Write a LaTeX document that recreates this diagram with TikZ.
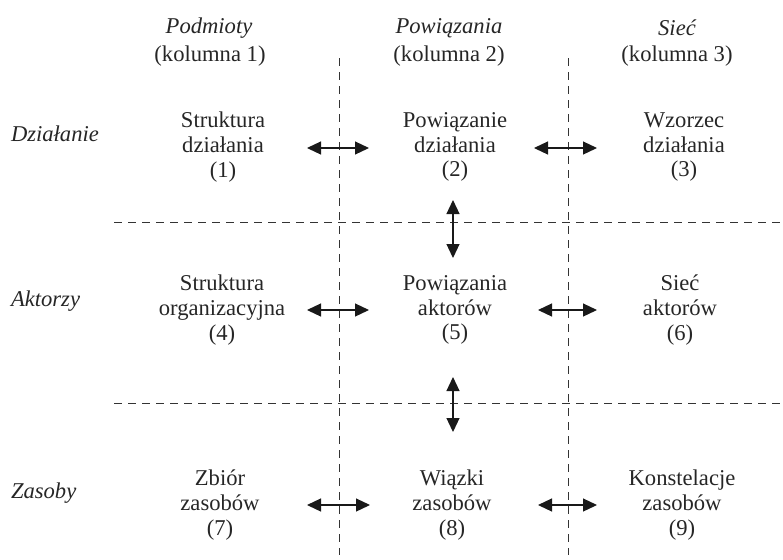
\documentclass[tikz,border=0pt]{standalone}
\usepackage{fontspec}
\setmainfont{Liberation Serif}
\usetikzlibrary{arrows.meta}
\begin{document}
\begin{tikzpicture}[x=0.5pt,y=-0.5pt,
  every node/.style={inner sep=0pt,outer sep=0pt,text=black!85},
  cell/.style={align=center,font=\fontsize{11.3}{12.3}\selectfont},
  rowlab/.style={anchor=west,font=\fontsize{11.3}{12.3}\selectfont\itshape},
  colhead/.style={font=\fontsize{11.3}{12.3}\selectfont\itshape},
  colsub/.style={font=\fontsize{11.3}{12.3}\selectfont},
  grid/.style={dashed,dash pattern=on 4pt off 3pt,line width=0.5pt,black!80},
  dbl/.style={{Triangle[length=7pt,width=6.5pt]}-{Triangle[length=7pt,width=6.5pt]},line width=0.6pt,black!90}]
\useasboundingbox (0,0) rectangle (783,559);
% grid lines
\coordinate (v1t) at (339,58);  \coordinate (v1b) at (339,555);
\coordinate (v2t) at (568,58);  \coordinate (v2b) at (568,555);
\coordinate (h1l) at (114,222); \coordinate (h1r) at (783,222);
\coordinate (h2l) at (114,403); \coordinate (h2r) at (783,403);
\draw[grid] (v1t) -- (v1b);
\draw[grid] (v2t) -- (v2b);
\draw[grid] (h1l) -- (h1r);
\draw[grid] (h2l) -- (h2r);
% column headers
\node[colhead] (h1) at (209,28) {Podmioty};
\node[colsub]  (k1) at (210,56) {(kolumna 1)};
\node[colhead] (h2) at (449,28) {Powiązania};
\node[colsub]  (k2) at (449,56) {(kolumna 2)};
\node[colhead] (h3) at (677,28) {Sieć};
\node[colsub]  (k3) at (677,56) {(kolumna 3)};
% row labels
\node[rowlab] (r1) at (11,134) {Działanie};
\node[rowlab] (r2) at (11,301) {Aktorzy};
\node[rowlab] (r3) at (11,493) {Zasoby};
% cells
\node[cell] (c1) at (223,147) {Struktura\\działania\\(1)};
\node[cell] (c2) at (455,147) {Powiązanie\\działania\\(2)};
\node[cell] (c3) at (684,147) {Wzorzec\\działania\\(3)};
\node[cell] (c4) at (222,310) {Struktura\\organizacyjna\\(4)};
\node[cell] (c5) at (455,310) {Powiązania\\aktorów\\(5)};
\node[cell] (c6) at (680,310) {Sieć\\aktorów\\(6)};
\node[cell] (c7) at (220,505) {Zbiór\\zasobów\\(7)};
\node[cell] (c8) at (452,505) {Wiązki\\zasobów\\(8)};
\node[cell] (c9) at (682,505) {Konstelacje\\zasobów\\(9)};
% arrow end points
\coordinate (a1l) at (307,148); \coordinate (a1r) at (369,148);
\coordinate (a2l) at (534,148); \coordinate (a2r) at (597,148);
\coordinate (a3l) at (307,310); \coordinate (a3r) at (369,310);
\coordinate (a4l) at (538,310); \coordinate (a4r) at (597,310);
\coordinate (a5l) at (307,505); \coordinate (a5r) at (370,505);
\coordinate (a6l) at (538,505); \coordinate (a6r) at (597,505);
\coordinate (b1t) at (453,200); \coordinate (b1b) at (453,258);
\coordinate (b2t) at (453,377); \coordinate (b2b) at (453,432);
\draw[dbl] (a1l) -- (a1r);
\draw[dbl] (a2l) -- (a2r);
\draw[dbl] (a3l) -- (a3r);
\draw[dbl] (a4l) -- (a4r);
\draw[dbl] (a5l) -- (a5r);
\draw[dbl] (a6l) -- (a6r);
\draw[dbl] (b1t) -- (b1b);
\draw[dbl] (b2t) -- (b2b);
\end{tikzpicture}
\end{document}
